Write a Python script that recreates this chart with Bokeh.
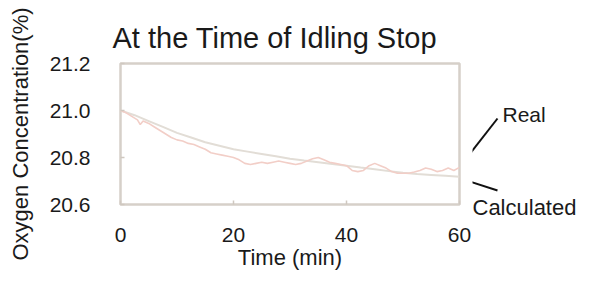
from bokeh.plotting import figure
from bokeh.layouts import row
from bokeh.models import Range1d, FixedTicker, CustomJSTickFormatter
from bokeh.core.properties import value
from bokeh.embed import file_html
from bokeh.resources import INLINE

# ---- data ----
real_t = [0, 1, 2, 3, 3.5, 4, 5, 6, 7, 8, 9, 10, 11, 12, 13, 14, 15, 16, 17, 18, 19,
          20, 21, 22, 23, 24, 25, 26, 27, 28, 29, 30, 31, 32, 33, 34, 35, 36, 37, 38,
          39, 40, 41, 42, 43, 44, 45, 46, 47, 48, 49, 50, 51, 52, 53, 54, 55, 56, 57,
          58, 59, 60]
real_v = [21.00, 20.99, 20.975, 20.96, 20.94, 20.955, 20.945, 20.93, 20.915, 20.90,
          20.885, 20.875, 20.87, 20.86, 20.855, 20.845, 20.835, 20.82, 20.815, 20.81,
          20.805, 20.80, 20.79, 20.775, 20.77, 20.775, 20.78, 20.775, 20.78, 20.785,
          20.78, 20.775, 20.77, 20.775, 20.785, 20.795, 20.80, 20.79, 20.78, 20.775,
          20.77, 20.765, 20.745, 20.74, 20.745, 20.765, 20.775, 20.765, 20.755, 20.74,
          20.733, 20.733, 20.733, 20.738, 20.745, 20.755, 20.75, 20.74, 20.745, 20.755,
          20.745, 20.758]
calc_t = [0, 2.5, 5, 7.5, 10, 12.5, 15, 17.5, 20, 22.5, 25, 27.5, 30, 32.5, 35, 37.5,
          40, 42.5, 45, 47.5, 50, 52.5, 55, 57.5, 60]
calc_v = [21.00, 20.98, 20.955, 20.93, 20.905, 20.885, 20.865, 20.85, 20.835, 20.825,
          20.815, 20.805, 20.795, 20.787, 20.78, 20.772, 20.765, 20.757, 20.75, 20.742,
          20.735, 20.73, 20.726, 20.722, 20.718]
x_ticks = [0, 20, 40, 60]
y_ticks = [20.6, 20.8, 21.0, 21.2]
title_text = "At the Time of Idling Stop"
x_title = "Time (min)"
y_title = "Oxygen Concentration(%)"
series_names = ["Real", "Calculated"]

FONT = "Liberation Sans"
H = 273
W_MAIN = 472

p = figure(width=W_MAIN, height=H, output_backend="svg", toolbar_location=None,
           x_range=Range1d(0, 60), y_range=Range1d(20.6, 21.2),
           min_border_left=120, min_border_right=W_MAIN - 459, min_border_top=63,
           min_border_bottom=69)
p.frame_align = False

p.title.text = title_text
p.title.text_font = FONT
p.title.text_font_size = "29px"
p.title.text_font_style = "normal"
p.title.text_color = "#1a1a1a"
p.title.offset = -8
p.title.standoff = 20

p.grid.visible = False
p.outline_line_color = "#d6d0c9"
p.outline_line_width = 2.5
p.background_fill_color = "white"
p.border_fill_color = "white"

for ax in (p.xaxis[0], p.yaxis[0]):
    ax.axis_line_color = None
    ax.major_tick_in = 4
    ax.major_tick_out = 0
    ax.major_tick_line_color = "#cfc8c0"
    ax.major_tick_line_width = 1.5
    ax.minor_tick_line_color = None
    ax.major_label_text_font = FONT
    ax.major_label_text_font_size = "21px"
    ax.major_label_text_color = "#1a1a1a"
    ax.axis_label_text_font = FONT
    ax.axis_label_text_font_style = "normal"
    ax.axis_label_text_color = "#1a1a1a"

p.xaxis.ticker = FixedTicker(ticks=x_ticks)
p.yaxis.ticker = FixedTicker(ticks=y_ticks)
p.yaxis.formatter = CustomJSTickFormatter(code="return tick.toFixed(1);")
p.xaxis.major_label_standoff = 23
p.yaxis.major_label_standoff = 30
p.xaxis.axis_label = x_title
p.xaxis.axis_label_text_font_size = "22px"
p.xaxis.axis_label_standoff = 0
p.yaxis.axis_label = y_title
p.yaxis.axis_label_text_font_size = "22px"
p.yaxis.axis_label_standoff = 14

p.line(calc_t, calc_v, line_color="#e2ddd6", line_width=2)
p.line(real_t, real_v, line_color="#f2cec7", line_width=1.6)

# side panel with the series callouts (pixel coordinates, y downward)
q = figure(width=578 - W_MAIN, height=H, output_backend="svg", toolbar_location=None,
           x_range=Range1d(W_MAIN, 578), y_range=Range1d(H, 0),
           min_border_left=0, min_border_right=0, min_border_top=0,
           min_border_bottom=0, x_axis_location=None, y_axis_location=None)
q.frame_align = False
q.grid.visible = False
q.outline_line_color = None
q.background_fill_color = "white"
q.border_fill_color = "white"
q.segment(x0=[461, 460], y0=[164, 178], x1=[497, 497], y1=[118, 190],
          line_color="#111111", line_width=2)
q.text(x=[502, 472], y=[114, 207], text=series_names, text_font=value(FONT),
       text_font_size=["21px", "22px"], text_baseline="middle", text_color="#1a1a1a")

layout = row(p, q, spacing=0)
open("out.html", "w").write(file_html(layout, INLINE))
